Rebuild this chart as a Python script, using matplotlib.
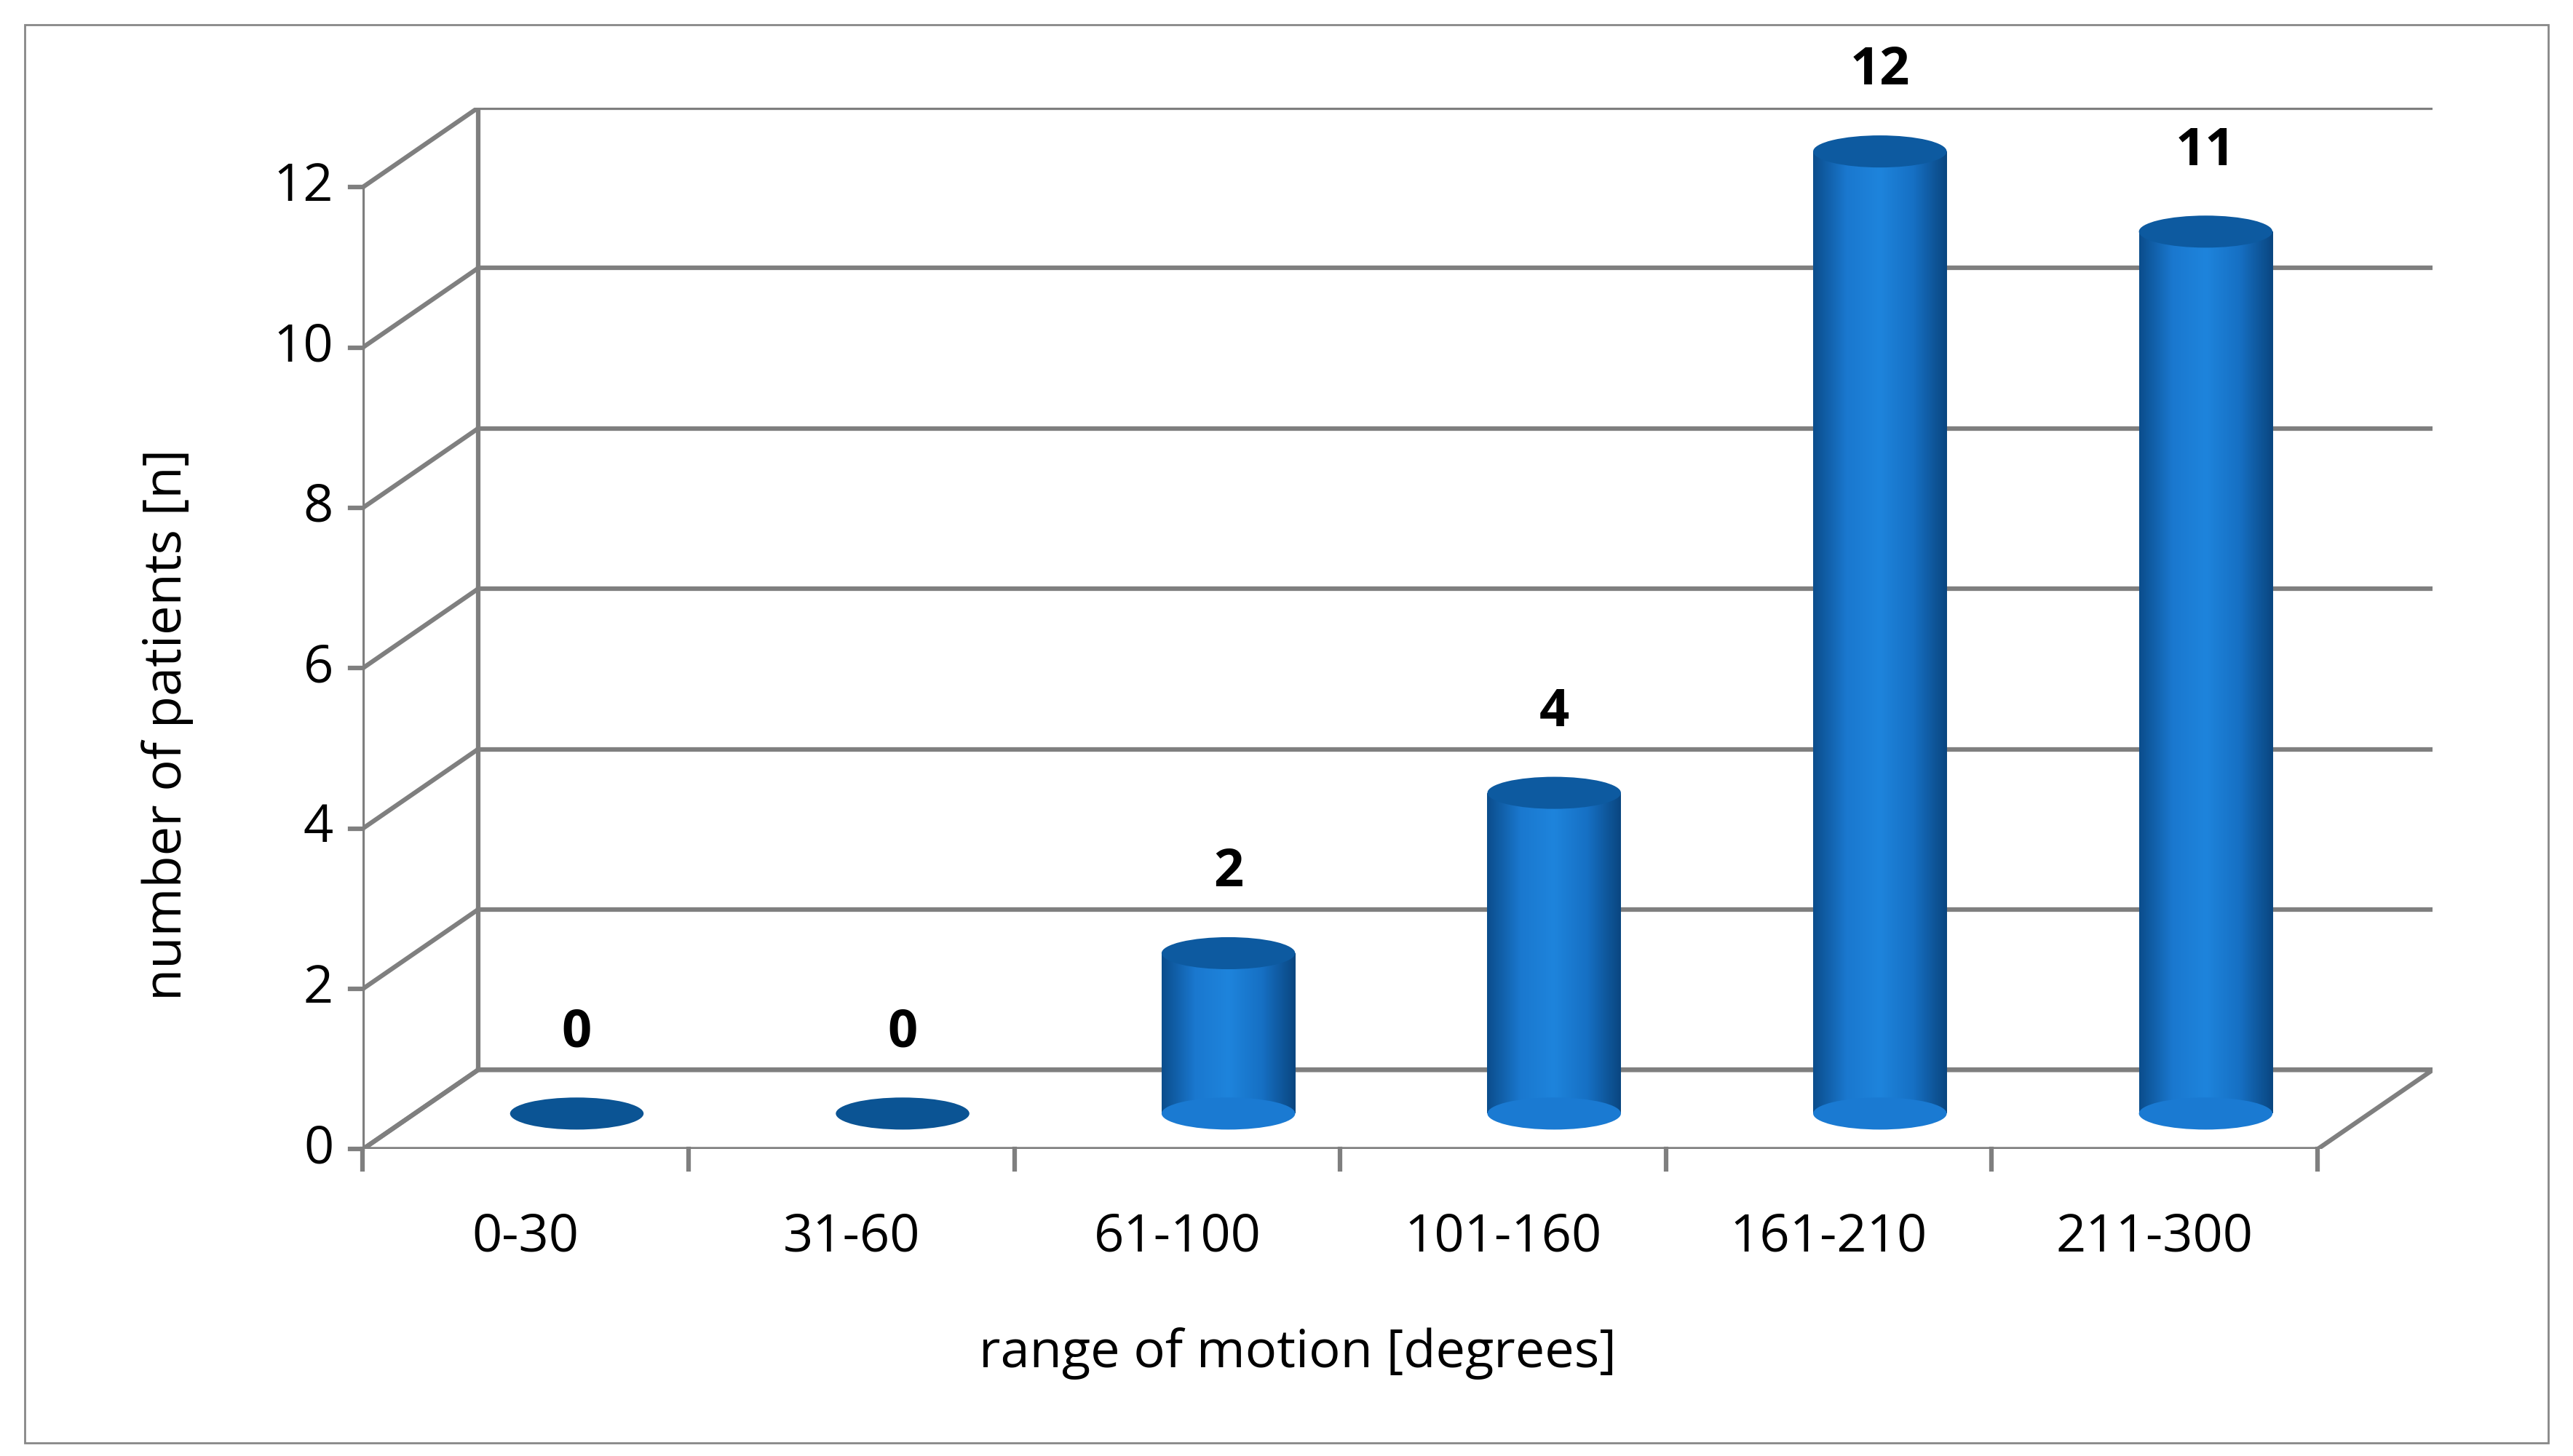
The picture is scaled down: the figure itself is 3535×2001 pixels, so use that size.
import numpy as np
import matplotlib.pyplot as plt
from matplotlib.patches import Ellipse, Polygon, Rectangle
from matplotlib.colors import LinearSegmentedColormap

categories = ["0-30", "31-60", "61-100", "101-160", "161-210", "211-300"]
values = [0, 0, 2, 4, 12, 11]
yticks = [0, 2, 4, 6, 8, 10, 12]

plt.rcParams['font.family'] = ['Open Sans', 'DejaVu Sans']
fs = 52
fig = plt.figure(figsize=(35.35, 20.01), dpi=100)
fig.patches.append(Rectangle((15/1560, 1-875/883), 1530/1560, 860/883, transform=fig.transFigure,
                             fill=False, ec='#888888', lw=2))
ax = fig.add_axes([0.141, 0.2107, 0.8045, 0.7153])
ax.set_xlim(0, 6.354)
ax.set_ylim(0, 12.99)
ax.axis('off')

dx, dy = 0.354, 0.99
grid = '#7f7f7f'
lw = 4.5
# back wall grid + left wall diagonals
for k in yticks:
    ax.plot([dx, 6 + dx], [k + dy, k + dy], color=grid, lw=lw)
    ax.plot([0, dx], [k, k + dy], color=grid, lw=lw)
    ax.plot([-0.04, 0], [k, k], color=grid, lw=lw, clip_on=False)
    ax.text(-0.09, k, str(k), ha='right', va='center', fontsize=fs, clip_on=False)
ax.plot([dx, dx], [dy, 12 + dy], color=grid, lw=lw)
ax.plot([0, 0], [0, 12], color=grid, lw=lw)
ax.add_patch(Polygon([(0, 0), (6, 0), (6 + dx, dy), (dx, dy)], closed=True, fill=False, ec=grid, lw=lw))
for i in range(7):
    ax.plot([i, i], [0, -0.25], color=grid, lw=lw, clip_on=False)
for i, c in enumerate(categories):
    ax.text(i + 0.5, -1.1, c, ha='center', va='center', fontsize=fs, clip_on=False)

ax.text(2.87, -2.55, "range of motion [degrees]", ha='center', va='center', fontsize=fs, clip_on=False)
ax.text(-0.6, 5.3, "number of patients [n]", ha='center', va='center', rotation=90, fontsize=fs, clip_on=False)

cmap = LinearSegmentedColormap.from_list('cyl', ['#0b4d8c', '#1a78cf', '#1e84dc', '#1670c4', '#0a4680'])
grad = np.linspace(0, 1, 256).reshape(1, -1)
rx, ry = 0.205, 0.2
for i, v in enumerate(values):
    cx = i + 0.5 + dx / 2 - 0.02
    base = dy / 2 - 0.05
    if v > 0:
        body = Rectangle((cx - rx, base), 2 * rx, v, fc='none', ec='none')
        ax.add_patch(body)
        im = ax.imshow(grad, cmap=cmap, extent=[cx - rx, cx + rx, base, base + v], aspect='auto', zorder=3)
        im.set_clip_path(body)
        ax.add_patch(Ellipse((cx, base), 2 * rx, 2 * ry, fc='#1a7ad2', ec='none', zorder=3))
        ax.add_patch(Ellipse((cx, base + v), 2 * rx, 2 * ry, fc='#0d5aa0', ec='none', zorder=4))
    else:
        ax.add_patch(Ellipse((cx, base), 2 * rx, 2 * ry, fc='#0b5494', ec='none', zorder=3))
    ax.text(cx, v + 1.45, str(v), ha='center', va='center', fontsize=fs, fontweight='bold', clip_on=False)

ax.set_xlim(0, 6.354)
ax.set_ylim(0, 12.99)
fig.savefig('out.png', dpi=100)
